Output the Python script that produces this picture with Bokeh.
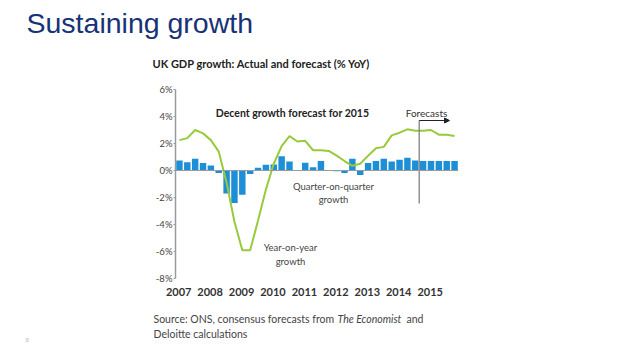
from bokeh.plotting import figure
from bokeh.layouts import column
from bokeh.models import Range1d, FixedTicker, Label, Span, Arrow, NormalHead, ColumnDataSource
from bokeh.embed import file_html
from bokeh.resources import INLINE

# ---- data ----
quarters = [f"{y}Q{q}" for y in range(2007, 2016) for q in range(1, 5)]
qoq = [0.75, 0.62, 0.87, 0.55, 0.37, -0.18, -1.7, -2.4, -1.8, -0.25, 0.2, 0.42,
       0.45, 1.05, 0.67, 0.0, 0.57, 0.25, 0.7, 0.0, -0.05, -0.18, 0.87, -0.33,
       0.55, 0.7, 0.87, 0.67, 0.8, 0.95, 0.75, 0.7, 0.7, 0.7, 0.7, 0.7]
yoy = [2.25, 2.4, 3.0, 2.75, 2.25, 1.4, -0.9, -3.8, -5.9, -5.9, -3.7, -1.4,
       0.5, 1.8, 2.55, 2.15, 2.2, 1.5, 1.5, 1.45, 1.1, 0.7, 0.35, 0.5,
       1.1, 1.65, 1.75, 2.6, 2.8, 3.05, 2.95, 2.95, 3.0, 2.65, 2.65, 2.55]
year_labels = ["2007", "2008", "2009", "2010", "2011", "2012", "2013", "2014", "2015"]
y_ticks = [-8, -6, -4, -2, 0, 2, 4, 6]
forecast_start = 31  # index of first forecast quarter (2014Q4)

FONT = "Lato"
W = 622
HEAD_H, CHART_H, FOOT_H = 75, 225, 43
n = len(quarters)

# frame box (page px)
FX0, FX1, FY0, FY1 = 175, 458, 89, 278


def text_fig(h):
    f = figure(width=W, height=h, output_backend="svg", toolbar_location=None,
               x_range=Range1d(0, W), y_range=Range1d(h, 0), frame_align=False,
               min_border=0, x_axis_type=None, y_axis_type=None)
    f.outline_line_color = None
    f.xgrid.visible = False
    f.ygrid.visible = False
    return f


def lab(f, text, x, y, size, align="left", style="normal", color="#333333", font=FONT):
    f.add_layout(Label(x=x, y=y, text=text, text_align=align, text_baseline="middle",
                       text_font_size=size, text_font_style=style, text_color=color,
                       text_font=font))


# ---- header ----
head = text_fig(HEAD_H)
lab(head, "Sustaining growth", 26, 22, "28.5px", color="#173275", font="Liberation Sans")
lab(head, "UK GDP growth: Actual and forecast (% YoY)", 152, 63, "11px", style="bold", color="#222222")

# ---- chart ----
top_b = FY0 - HEAD_H
p = figure(width=W, height=CHART_H, output_backend="svg", toolbar_location=None,
           x_range=Range1d(0, n), y_range=Range1d(-8, 6), frame_align=False,
           min_border_left=FX0, min_border_right=W - FX1,
           min_border_top=top_b, min_border_bottom=CHART_H - top_b - (FY1 - FY0))
p.outline_line_color = None
p.xgrid.visible = False
p.ygrid.visible = False

PXW = (FX1 - FX0) / n
PYH = (FY1 - FY0) / 14.0
def dx(px):
    return (px - FX0) / PXW
def dy(py):
    return 6 - (py - FY0) / PYH

p.yaxis.ticker = FixedTicker(ticks=y_ticks)
p.yaxis.major_label_overrides = {t: f"{t}%" for t in y_ticks}
p.yaxis.axis_line_color = "#9a9a9a"
p.yaxis.axis_line_width = 1.5
p.yaxis.major_tick_line_color = "#9a9a9a"
p.yaxis.major_tick_in = 0
p.yaxis.major_tick_out = 2
p.yaxis.minor_tick_line_color = None
p.yaxis.major_label_standoff = 1
p.yaxis.major_label_text_font = FONT
p.yaxis.major_label_text_font_size = "9.5px"
p.yaxis.major_label_text_color = "#444444"

xt = [4 * k + 0.4 for k in range(len(year_labels))]
p.xaxis.ticker = FixedTicker(ticks=xt)
p.xaxis.major_label_overrides = {t: lab_ for t, lab_ in zip(xt, year_labels)}
p.xaxis.axis_line_color = None
p.xaxis.major_tick_line_color = None
p.xaxis.minor_tick_line_color = None
p.xaxis.major_label_standoff = 3
p.xaxis.major_label_text_font = FONT
p.xaxis.major_label_text_font_size = "11px"
p.xaxis.major_label_text_color = "#333333"
p.xaxis.major_label_text_font_style = "bold"

p.add_layout(Span(location=0, dimension="width", line_color="#9a9a9a", line_width=1.2))

src = ColumnDataSource(dict(x=[i + 0.5 for i in range(n)], qoq=qoq, yoy=yoy, q=quarters))
p.vbar(x="x", top="qoq", bottom=0, width=0.82, source=src, fill_color="#1d8fd6", line_color=None)
p.line(x="x", y="yoy", source=src, line_color="#98ca3c", line_width=2)

p.segment(x0=[forecast_start], y0=[dy(203)], x1=[forecast_start], y1=[dy(120)],
          line_color="#777777", line_width=1.2)
p.add_layout(Arrow(x_start=forecast_start, y_start=dy(120), x_end=dx(449), y_end=dy(120),
                   line_color="#222222", line_width=1,
                   end=NormalHead(size=5, fill_color="#222222", line_color="#222222")))

def plab(text, px, py, size, align="left", style="normal", color="#333333"):
    p.add_layout(Label(x=dx(px), y=dy(py), text=text, text_align=align, text_baseline="middle",
                       text_font_size=size, text_font_style=style, text_color=color,
                       text_font=FONT))

plab("Decent growth forecast for 2015", 292, 112, "10.5px", align="center", style="bold", color="#222222")
plab("Forecasts", 426, 112, "10px", align="center", color="#333333")
plab("Quarter-on-quarter", 333, 186, "9.5px", align="center", color="#444444")
plab("growth", 333, 199, "9.5px", align="center", color="#444444")
plab("Year-on-year", 290, 247, "9.5px", align="center", color="#444444")
plab("growth", 290, 261, "9.5px", align="center", color="#444444")

# ---- footer ----
foot_top = HEAD_H + CHART_H
foot = text_fig(FOOT_H)
lab(foot, "Source: ONS, consensus forecasts from", 153, 318 - foot_top, "10.5px", color="#444444")
lab(foot, "The Economist", 337, 318 - foot_top, "10.5px", style="italic", color="#444444")
lab(foot, "and", 406, 318 - foot_top, "10.5px", color="#444444")
lab(foot, "Deloitte calculations", 153, 333 - foot_top, "10.5px", color="#444444")
lab(foot, "8", 25, 339 - foot_top, "6px", color="#bbbbbb")

layout = column(head, p, foot, spacing=0)
open("out.html", "w").write(file_html(layout, INLINE))
